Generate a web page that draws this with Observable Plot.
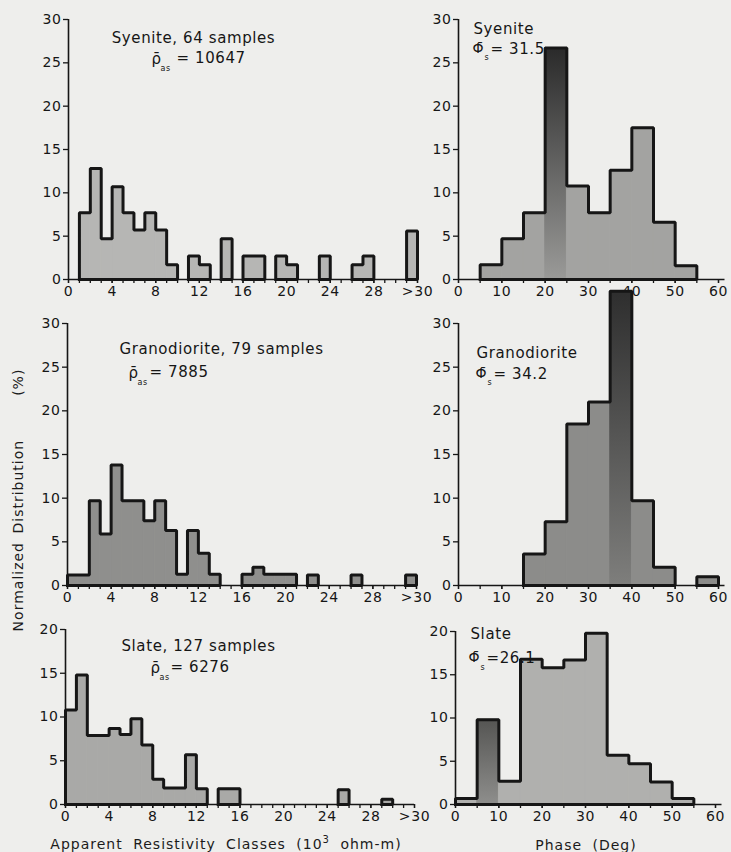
<!DOCTYPE html>
<html>
<head>
<meta charset="utf-8">
<script src="https://cdn.jsdelivr.net/npm/d3@7"></script>
<script src="https://cdn.jsdelivr.net/npm/@observablehq/plot@0.6"></script>
<style>
  html, body { margin: 0; padding: 0; background: #eeeeec; }
  #chart { position: relative; width: 731px; height: 852px; overflow: hidden;
           font-family: "DejaVu Sans", sans-serif; color: #1b1b1b; }
  #chart svg { position: absolute; left: 0; top: 0; }
  .title { position: absolute; white-space: pre; font-size: 14px; letter-spacing: 1px; word-spacing: 5px;
           transform: translate(-50%, -50%); line-height: 1; }
  .ytitle { transform: translate(-50%, -50%) rotate(-90deg); word-spacing: 3px; }
</style>
</head>
<body>
<div id="chart"></div>
<script>
// ---------- tick values / labels ----------
const resTickValues = [0, 4, 8, 12, 16, 20, 24, 28, 32];
const resTickLabels = ["0", "4", "8", "12", "16", "20", "24", "28", ">30"];
const resMinorTicks = [0,1,2,3,4,5,6,7,8,9,10,11,12,13,14,15,16,17,18,19,20,21,22,23,24,25,26,27,28,29,30,31,32];
const phaseTickValues = [0, 10, 20, 30, 40, 50, 60];
const phaseTickLabels = ["0", "10", "20", "30", "40", "50", "60"];
const phaseMinorTicks = [0, 5, 10, 15, 20, 25, 30, 35, 40, 45, 50, 55, 60];
const pctTicks30 = [0, 5, 10, 15, 20, 25, 30];
const pctTicks20 = [0, 5, 10, 15, 20];

// ---------- data (class lower edge, normalized %) ----------
// Syenite – apparent resistivity (classes of 10^3 ohm-m; last class = ">30")
const syeniteResClass = [1, 2, 3, 4, 5, 6, 7, 8, 9, 11, 12, 14, 16, 17, 19, 20, 23, 26, 27, 31];
const syeniteResPct   = [7.7, 12.8, 4.7, 10.7, 7.7, 5.7, 7.7, 5.7, 1.7, 2.7, 1.7, 4.7, 2.7, 2.7, 2.7, 1.7, 2.7, 1.7, 2.7, 5.6];
// Syenite – phase (5 deg classes)
const syenitePhaseClass = [5, 10, 15, 20, 25, 30, 35, 40, 45, 50];
const syenitePhasePct   = [1.7, 4.7, 7.7, 26.7, 10.8, 7.7, 12.6, 17.5, 6.6, 1.6];
// Granodiorite – apparent resistivity
const granoResClass = [0, 1, 2, 3, 4, 5, 6, 7, 8, 9, 10, 11, 12, 13, 16, 17, 18, 19, 20, 22, 26, 31];
const granoResPct   = [1.2, 1.2, 9.7, 5.9, 13.8, 9.7, 9.7, 7.4, 9.7, 6.3, 1.3, 6.3, 3.7, 1.3, 1.3, 2.1, 1.3, 1.3, 1.3, 1.2, 1.2, 1.2];
// Granodiorite – phase
const granoPhaseClass = [15, 20, 25, 30, 35, 40, 45, 55];
const granoPhasePct   = [3.6, 7.3, 18.5, 21.0, 33.7, 9.7, 2.1, 1.0];
// Slate – apparent resistivity
const slateResClass = [0, 1, 2, 3, 4, 5, 6, 7, 8, 9, 10, 11, 12, 14, 15, 25, 29];
const slateResPct   = [10.8, 14.8, 7.9, 7.9, 8.7, 8.0, 9.8, 6.8, 2.9, 1.9, 1.9, 5.7, 1.8, 1.8, 1.8, 1.7, 0.6];
// Slate – phase
const slatePhaseClass = [0, 5, 10, 15, 20, 25, 30, 35, 40, 45, 50];
const slatePhasePct   = [0.7, 9.8, 2.7, 16.8, 15.8, 16.7, 19.8, 5.7, 4.7, 2.6, 0.7];

// ---------- annotation texts ----------
const rhoBar = "\u03C1\u0304";
const phiBar = "\u03A6\u0304";

const W = 731, H = 852, INK = "#161616";
const chart = document.getElementById("chart");

function note(cfg, text, gx, gy, opts = {}) {
  return Plot.text([text], {
    text: d => d, frameAnchor: "top-left",
    dx: gx - cfg.ml, dy: gy - cfg.mt,
    textAnchor: opts.anchor || "start", fontSize: opts.size || 15,
    fill: INK
  });
}

function panel(cfg) {
  const bars = cfg.classes.map((c, i) => ({x1: c, x2: c + cfg.bin, y: cfg.pct[i]}));
  // outline of each contiguous run of classes
  const outline = [];
  let g = -1, prevEnd = null, start = null;
  bars.forEach(b => {
    if (b.x1 !== prevEnd) {
      if (g >= 0) outline.push({x: prevEnd, y: 0, g}, {x: start, y: 0, g});
      g++; start = b.x1;
      outline.push({x: b.x1, y: 0, g});
    }
    outline.push({x: b.x1, y: b.y, g});
    prevEnd = b.x2;
  });
  outline.push({x: prevEnd, y: 0, g}, {x: start, y: 0, g});

  const gid = "grad" + cfg.id;
  const barFill = d => (d.x1 === cfg.dark ? `url(#${gid})` : cfg.fill);
  const svg = Plot.plot({
    width: W, height: H,
    marginLeft: cfg.ml, marginRight: W - cfg.xr, marginTop: cfg.mt, marginBottom: H - cfg.yb,
    x: {domain: cfg.xDomain},
    y: {domain: cfg.yDomain},
    style: {background: "transparent", color: INK, fontFamily: '"DejaVu Sans", sans-serif',
            fontSize: "14px", overflow: "visible", letterSpacing: "0.6px"},
    marks: [
      Plot.rect(bars, {x1: "x1", x2: "x2", y1: 0, y2: "y", fill: barFill, stroke: barFill, strokeWidth: 0.8}),
      Plot.ruleY([0], {x1: cfg.xDomain[0], x2: cfg.xLineEnd, stroke: INK, strokeWidth: 1.6}),
      Plot.ruleX([0], {stroke: INK, strokeWidth: 1.6}),
      Plot.axisX(cfg.xMinor, {tickSize: 4, tickFormat: () => "", strokeWidth: 1.3, label: null}),
      Plot.axisX(cfg.xTicks, {tickSize: 4, tickPadding: 3, strokeWidth: 1.3, label: null,
        tickFormat: d => cfg.xLabels[cfg.xTicks.indexOf(d)]}),
      Plot.axisY(cfg.yTicks, {tickSize: 5, tickPadding: 2, strokeWidth: 1.3, label: null}),
      Plot.line(outline, {x: "x", y: "y", z: "g", curve: "step-after", stroke: INK,
        strokeWidth: 3, strokeLinejoin: "miter", strokeLinecap: "square"}),
      ...cfg.notes(cfg)
    ]
  });
  if (cfg.dark !== undefined) {
    const defs = d3.select(svg).insert("defs", ":first-child");
    const lg = defs.append("linearGradient").attr("id", gid)
      .attr("x1", 0).attr("y1", 0).attr("x2", 0).attr("y2", 1);
    lg.append("stop").attr("offset", "0%").attr("stop-color", cfg.darkTop);
    lg.append("stop").attr("offset", "100%").attr("stop-color", cfg.darkBottom);
  }
  chart.appendChild(svg);
}

const resAxis = {xDomain: [0, 32], xLineEnd: 32, xTicks: resTickValues, xLabels: resTickLabels, xMinor: resMinorTicks, bin: 1};
const phaseAxis = {xDomain: [0, 60], xLineEnd: 61.5, xTicks: phaseTickValues, xLabels: phaseTickLabels, xMinor: phaseMinorTicks, bin: 5};

// Syenite resistivity
panel({...resAxis, id: 1, ml: 68, xr: 417, mt: 19, yb: 279, yDomain: [0, 30], yTicks: pctTicks30,
  classes: syeniteResClass, pct: syeniteResPct, fill: "#b6b6b4",
  notes: c => [
    note(c, "Syenite, 64 samples", 193, 32, {anchor: "middle"}),
    note(c, rhoBar, 151, 53),
    note(c, "as", 160, 65, {size: 8}),
    note(c, "= 10647", 176, 52)
  ]});
// Syenite phase
panel({...phaseAxis, id: 2, ml: 458, xr: 718, mt: 19, yb: 279, yDomain: [0, 30], yTicks: pctTicks30,
  classes: syenitePhaseClass, pct: syenitePhasePct, fill: "#a3a3a1",
  dark: 20, darkTop: "#2a2a2a", darkBottom: "#9a9a98",
  notes: c => [
    note(c, "Syenite", 473, 23),
    note(c, phiBar, 472, 43, {size: 14}),
    note(c, "s", 484, 54, {size: 8}),
    note(c, "= 31.5", 490, 43)
  ]});
// Granodiorite resistivity
panel({...resAxis, id: 3, ml: 67, xr: 416, mt: 323, yb: 585, yDomain: [0, 30], yTicks: pctTicks30,
  classes: granoResClass, pct: granoResPct, fill: "#8f8f8d",
  notes: c => [
    note(c, "Granodiorite, 79 samples", 221, 343, {anchor: "middle"}),
    note(c, rhoBar, 128, 367),
    note(c, "as", 137, 379, {size: 8}),
    note(c, "= 7885", 149, 366)
  ]});
// Granodiorite phase
panel({...phaseAxis, id: 4, ml: 458, xr: 718, mt: 323, yb: 585, yDomain: [0, 30], yTicks: pctTicks30,
  classes: granoPhaseClass, pct: granoPhasePct, fill: "#8c8c8a",
  dark: 35, darkTop: "#2e2e2e", darkBottom: "#7e7e7c",
  notes: c => [
    note(c, "Granodiorite", 476, 347),
    note(c, phiBar, 475, 368, {size: 14}),
    note(c, "s", 487, 379, {size: 8}),
    note(c, "= 34.2", 493, 368)
  ]});
// Slate resistivity
panel({...resAxis, id: 5, ml: 65, xr: 414, mt: 629, yb: 804, yDomain: [0, 20], yTicks: pctTicks20,
  classes: slateResClass, pct: slateResPct, fill: "#a9a9a7",
  notes: c => [
    note(c, "Slate, 127 samples", 198, 640, {anchor: "middle"}),
    note(c, rhoBar, 150, 662),
    note(c, "as", 159, 674, {size: 8}),
    note(c, "= 6276", 170, 661)
  ]});
// Slate phase
panel({...phaseAxis, id: 6, ml: 455, xr: 715, mt: 631, yb: 804, yDomain: [0, 20], yTicks: pctTicks20,
  classes: slatePhaseClass, pct: slatePhasePct, fill: "#b0b0ae",
  dark: 5, darkTop: "#555553", darkBottom: "#8e8e8c",
  notes: c => [
    note(c, "Slate", 470, 628),
    note(c, phiBar, 468, 652, {size: 14}),
    note(c, "s", 480, 664, {size: 8}),
    note(c, "=26.1", 486, 652)
  ]});

// Axis titles
function addTitle(html, x, y, extra) {
  const d = document.createElement("div");
  d.className = "title" + (extra ? " " + extra : "");
  d.style.left = x + "px"; d.style.top = y + "px";
  d.innerHTML = html;
  chart.appendChild(d);
}
addTitle("Apparent Resistivity Classes (10<sup style='font-size:10px'>3</sup> ohm-m)", 226, 843);
addTitle("Phase (Deg)", 586, 845);
addTitle("Normalized Distribution<span style='margin-left:44px'>(%)</span>", 18, 500, "ytitle");
</script>
</body>
</html>
